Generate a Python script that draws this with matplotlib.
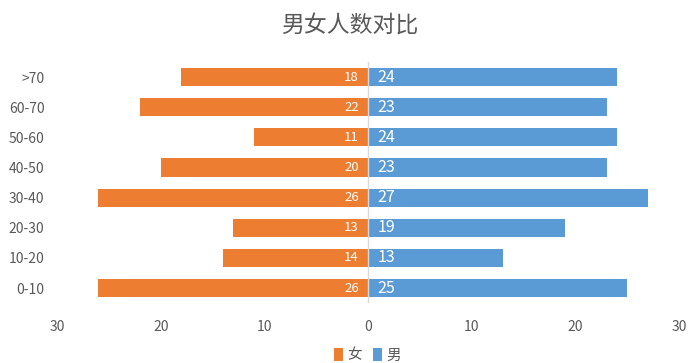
import matplotlib.pyplot as plt
import numpy as np

plt.rcParams["font.family"] = ["Noto Sans CJK SC", "DejaVu Sans"]

ages = ["0-10", "10-20", "20-30", "30-40", "40-50", "50-60", "60-70", ">70"]
female = [26, 14, 13, 26, 20, 11, 22, 18]
male = [25, 13, 19, 27, 23, 24, 23, 24]

orange = "#ED7D31"
blue = "#5B9BD5"
grey = "#595959"

fig = plt.figure(figsize=(7, 3.63), dpi=100)
ax = fig.add_axes([0.0814, 0.165, 0.889, 0.664])

y = np.arange(len(ages))
ax.barh(y, -np.array(female), height=0.6, color=orange, label="女")
ax.barh(y, male, height=0.6, color=blue, label="男")
ax.axvline(0, color="#D9D9D9", lw=1)

for i in range(len(ages)):
    ax.text(-0.9, y[i], str(female[i]), color="white", fontsize=9.5,
            ha="right", va="center")
    ax.text(0.9, y[i], str(male[i]), color="white", fontsize=11.5,
            ha="left", va="center")

ax.set_xlim(-30, 30)
ax.set_ylim(-0.5, len(ages) - 0.5)
ax.set_xticks([-30, -20, -10, 0, 10, 20, 30])
ax.set_xticklabels(["30", "20", "10", "0", "10", "20", "30"])
ax.set_yticks(y)
ax.set_yticklabels(ages)
ax.tick_params(length=0, colors=grey, labelsize=10)
ax.tick_params(axis="x", pad=12)
ax.tick_params(axis="y", pad=9)
for s in ax.spines.values():
    s.set_visible(False)

fig.suptitle("男女人数对比", fontsize=16.5, color=grey, y=0.962)
fig.legend(loc="lower center", ncol=2, frameon=False, fontsize=10.5,
           handlelength=0.6, handleheight=0.9, handletextpad=0.3,
           columnspacing=0.8, labelcolor=grey, bbox_to_anchor=(0.525, -0.035))

fig.savefig("out.png", dpi=100)
